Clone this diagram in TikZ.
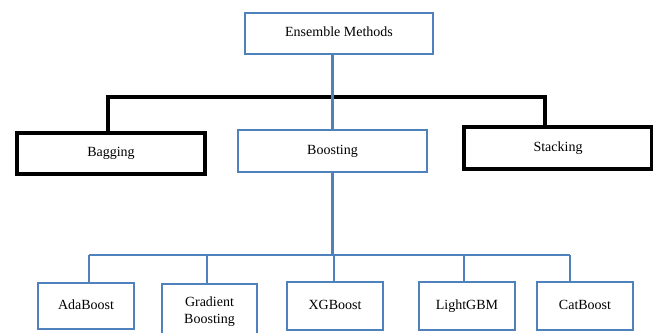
\documentclass[tikz,border=0pt]{standalone}
\usepackage{fontspec}
\setmainfont{Liberation Serif}
\definecolor{obl}{HTML}{4F81BD}
\begin{document}
\begin{tikzpicture}[x=1pt,y=-1pt,
  bluebox/.style={draw=obl,line width=2.8pt,inner sep=0pt,align=center,font=\fontsize{14}{17}\selectfont,text height=9.5pt,text depth=3pt},
  blackbox/.style={draw=black,line width=3.2pt,inner sep=0pt,align=center,font=\fontsize{14}{17}\selectfont,text height=9.5pt,text depth=3pt},
  blueline/.style={draw=obl,line width=2.8pt},
  blackline/.style={draw=black,line width=3.2pt}]
\useasboundingbox (0,0) rectangle (653,332);
\clip (0,0) rectangle (653,332);
% top level
\node[bluebox,minimum width=188pt,minimum height=41pt] (ens) at (339,33.5) {Ensemble Methods};
\node[blackbox,minimum width=188pt,minimum height=41pt] (bag) at (111,153.5) {Bagging};
\node[bluebox,minimum width=189pt,minimum height=42pt] (boost) at (332.5,151) {Boosting};
\node[blackbox,minimum width=188pt,minimum height=42pt] (stack) at (558,148) {Stacking};
% bottom level
\node[bluebox,minimum width=96pt,minimum height=46pt] (ada) at (86,306) {AdaBoost};
\node[bluebox,minimum width=95pt,minimum height=72pt] (grad) at (209.5,320) {Gradient\\Boosting};
\node[bluebox,minimum width=96pt,minimum height=48pt] (xgb) at (335,306) {XGBoost};
\node[bluebox,minimum width=96pt,minimum height=48pt] (lgbm) at (467,306) {LightGBM};
\node[bluebox,minimum width=96pt,minimum height=48pt] (cat) at (585,306) {CatBoost};
% black connectors
\coordinate (k1) at (108,97);
\coordinate (k2) at (545,97);
\draw[blackline] (k1 |- bag.north) -- (k1) -- (k2) -- (k2 |- stack.north);
% blue connectors
\draw[blueline] (boost.north |- ens.south) -- (boost.north);
\coordinate (h1) at (89,255);
\coordinate (h2) at (207,255);
\coordinate (h3) at (334,255);
\coordinate (h4) at (464,255);
\coordinate (h5) at (570,255);
\draw[blueline] (boost.south) -- (boost.south |- h1);
\draw[blueline] (h1) -- (h5);
\draw[blueline] (h1) -- (h1 |- ada.north);
\draw[blueline] (h2) -- (h2 |- grad.north);
\draw[blueline] (h3) -- (h3 |- xgb.north);
\draw[blueline] (h4) -- (h4 |- lgbm.north);
\draw[blueline] (h5) -- (h5 |- cat.north);
\end{tikzpicture}
\end{document}
